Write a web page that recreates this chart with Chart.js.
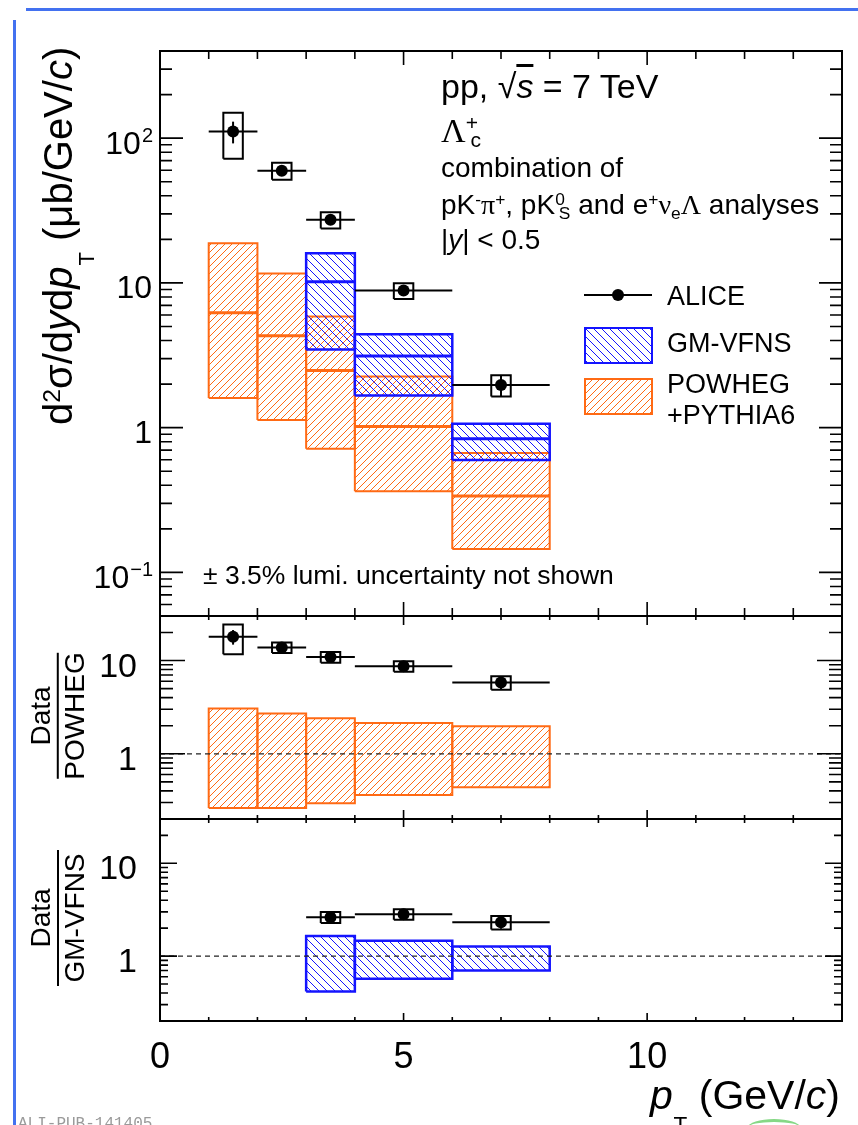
<!DOCTYPE html>
<html>
<head>
<meta charset="utf-8">
<script src="https://cdn.jsdelivr.net/npm/chart.js@4/dist/chart.umd.min.js"></script>
<style>
html,body{margin:0;padding:0;background:#fff;}
body{width:858px;height:1125px;position:relative;overflow:hidden;font-family:"Liberation Sans",Arial,Helvetica,sans-serif;color:#000;}
canvas{position:absolute;left:0;}
.t{position:absolute;white-space:nowrap;line-height:1;z-index:5;}
.t sup,.t sub{position:relative;vertical-align:baseline;line-height:0;font-size:0.62em;}
.t sup{top:-0.5em;}
.t sub{top:0.3em;}
.t sub.T{font-size:0.55em;top:1.0em;margin-left:0.04em;}
.g{font-family:"Liberation Serif","DejaVu Serif",serif;}
.rot{transform-origin:0 0;transform:rotate(-90deg);}
.frac{position:absolute;display:flex;flex-direction:column;align-items:center;font-size:28px;line-height:1;transform:rotate(-90deg);transform-origin:50% 50%;z-index:5;white-space:nowrap;}
.frac .bar{height:2px;background:#000;margin:2px 0;}
.scanT{position:absolute;left:26px;top:8px;width:832px;height:3px;background:#2f62ee;opacity:0.9;}
.scanL{position:absolute;left:13px;top:20px;width:3px;height:1105px;background:#2f62ee;opacity:0.9;}
.leg{position:absolute;z-index:5;}
</style>
</head>
<body>
<div class="scanT"></div>
<div class="scanL"></div>

<canvas id="c1" width="858" height="640" style="top:0px"></canvas>
<canvas id="c2" width="858" height="240" style="top:600px"></canvas>
<canvas id="c3" width="858" height="325" style="top:800px"></canvas>

<!-- annotations -->
<div class="t" style="left:441px;top:69px;font-size:34px;">pp, √<span style="font-style:italic;text-decoration:overline;">s</span> = 7 TeV</div>
<div class="t" style="left:441px;top:113px;font-size:34px;"><span class="g">Λ</span><sup style="font-size:0.62em;top:-0.55em;">+</sup><sub style="font-size:0.62em;top:0.25em;margin-left:-0.36em;">c</sub></div>
<div class="t" style="left:441px;top:154px;font-size:28px;">combination of</div>
<div class="t" style="left:441px;top:191px;font-size:28px;">pK<sup>-</sup><span class="g">π</span><sup>+</sup>, pK<sup>0</sup><sub style="margin-left:-0.345em;">S</sub> and e<sup>+</sup><span class="g">ν</span><sub>e</sub><span class="g">Λ</span> analyses</div>
<div class="t" style="left:441px;top:226px;font-size:28px;">|<i>y</i>| &lt; 0.5</div>
<div class="t" style="left:203px;top:562px;font-size:26.5px;">± 3.5% lumi. uncertainty not shown</div>

<!-- legend -->
<div class="leg" style="left:584px;top:294px;width:68px;height:2px;background:#000;"></div>
<div class="leg" style="left:612px;top:289px;width:12px;height:12px;border-radius:50%;background:#000;"></div>
<div class="leg" style="left:584px;top:327px;width:65px;height:33px;border:2px solid #1414ff;background:repeating-linear-gradient(45deg,#1414ff 0px,#1414ff 1px,transparent 1px,transparent 5.66px);"></div>
<div class="leg" style="left:584px;top:378px;width:65px;height:33px;border:2px solid #ff6a14;background:repeating-linear-gradient(-45deg,#ff6a14 0px,#ff6a14 1px,transparent 1px,transparent 4.95px);"></div>
<div class="t" style="left:667px;top:283px;font-size:27px;">ALICE</div>
<div class="t" style="left:667px;top:330px;font-size:27px;">GM-VFNS</div>
<div class="t" style="left:667px;top:371px;font-size:27px;">POWHEG</div>
<div class="t" style="left:667px;top:402px;font-size:27px;">+PYTHIA6</div>

<!-- axis titles -->
<div id="yt" class="t rot" style="font-size:40px;">d<sup>2</sup>σ/d<i>y</i>d<i>p</i><sub class="T">T</sub> (μb/GeV/<i>c</i>)</div>
<div id="fr1" class="frac"><div>Data</div><div class="bar" style="width:126px;"></div><div>POWHEG</div></div>
<div id="fr2" class="frac"><div>Data</div><div class="bar" style="width:136px;"></div><div>GM-VFNS</div></div>
<div class="t" style="right:18px;top:1075px;font-size:41px;"><i>p</i><sub class="T">T</sub> (GeV/<i>c</i>)</div>

<div class="t" style="left:18px;top:1116px;font-size:16px;font-family:'Liberation Mono','DejaVu Sans Mono',monospace;color:#9a9a9a;">ALI-PUB-141405</div>
<div style="position:absolute;left:748px;top:1119px;width:52px;height:14px;border-top:3px solid #86d886;border-radius:50% 50% 0 0;"></div>

<script>
// ---------------- data ----------------
const binLow = [1, 2, 3, 4, 6];
const binHigh = [2, 3, 4, 6, 8];
const ptCenter = [1.5, 2.5, 3.5, 5, 7];

const aliceXsec = [111, 59.5, 27.3, 8.85, 1.97];
const aliceStat = [19, 3.5, 1.5, 0.6, 0.33];
const aliceSyst = [39, 8, 3.5, 1.1, 0.33];

const powhegCentral = [6.21, 4.31, 2.48, 1.02, 0.337];
const powhegUpper = [18.8, 11.6, 5.87, 2.26, 0.668];
const powhegLower = [1.60, 1.13, 0.716, 0.363, 0.145];

const gmvfnsBins = [2, 3, 4];
const gmvfnsCentral = [10.2, 3.13, 0.84];
const gmvfnsUpper = [16.0, 4.42, 1.066];
const gmvfnsLower = [3.47, 1.67, 0.598];

const ratioPowheg = [18.0, 13.8, 10.9, 8.7, 5.82];
const ratioPowhegStat = [3.2, 0.8, 0.6, 0.6, 1.0];
const ratioPowhegSyst = [6.3, 1.8, 1.45, 1.1, 0.97];
const powhegBandUpper = [3.05, 2.70, 2.40, 2.14, 1.97];
const powhegBandLower = [0.263, 0.263, 0.295, 0.362, 0.437];

const ratioGmvfns = [2.63, 2.83, 2.32];
const ratioGmvfnsStat = [0.12, 0.15, 0.35];
const ratioGmvfnsSyst = [0.36, 0.37, 0.38];
const gmvfnsBandUpper = [1.65, 1.46, 1.27];
const gmvfnsBandLower = [0.417, 0.57, 0.70];

const xTickValues = [0, 5, 10];
const xTickLabels = ['0', '5', '10'];
const topYTickValues = [0.1, 1, 10, 100];
const topYTickLabels = [['10', '\u22121'], ['1', ''], ['10', ''], ['10', '2']];
const ratioYTickValues = [1, 10];
const ratioYTickLabels = [['1', ''], ['10', '']];

// ---------------- style ----------------
const FONT = '"Liberation Sans", Arial, Helvetica, sans-serif';
const ORANGE = '#ff6a14';
const BLUE = '#1414ff';
const SYS_HALF = 0.2;

function hatch(color, size, dir) {
  const c = document.createElement('canvas');
  c.width = size; c.height = size;
  const g = c.getContext('2d');
  g.strokeStyle = color; g.lineWidth = 1;
  g.beginPath();
  if (dir > 0) {
    g.moveTo(-1, size + 1); g.lineTo(size + 1, -1);
    g.moveTo(-1, 1); g.lineTo(1, -1);
    g.moveTo(size - 1, size + 1); g.lineTo(size + 1, size - 1);
  } else {
    g.moveTo(-1, -1); g.lineTo(size + 1, size + 1);
    g.moveTo(size - 1, -1); g.lineTo(size + 1, 1);
    g.moveTo(-1, size - 1); g.lineTo(1, size + 1);
  }
  g.stroke();
  return g.createPattern(c, 'repeat');
}
const orangeHatch = hatch(ORANGE, 7, 1);
const blueHatch = hatch(BLUE, 8, -1);

function fillBox(x0, x1, lo, hi, pat, order) {
  return {data: [{x: x0, y: lo}, {x: x0, y: hi}, {x: x1, y: hi}, {x: x1, y: lo}],
    fill: 'shape', backgroundColor: pat, borderWidth: 0, borderColor: 'rgba(0,0,0,0)',
    pointRadius: 0, order, clip: false};
}
function outline(x0, x1, lo, hi, color, w, order) {
  return {data: [{x: x0, y: lo}, {x: x0, y: hi}, {x: x1, y: hi}, {x: x1, y: lo}, {x: x0, y: lo}],
    fill: false, borderColor: color, borderWidth: w, pointRadius: 0, order, borderJoinStyle: 'miter'};
}
function seg(x0, y0, x1, y1, color, w, order, dash) {
  return {data: [{x: x0, y: y0}, {x: x1, y: y1}], fill: false, borderColor: color,
    borderWidth: w, pointRadius: 0, order, borderDash: dash || [], borderCapStyle: 'butt'};
}
function markers(xs, ys, order) {
  return {data: xs.map((x, i) => ({x, y: ys[i]})), showLine: false, pointRadius: 6,
    pointBackgroundColor: '#000', pointBorderWidth: 0, order};
}
function dataPoints(list, xs, vals, stat, syst, lows, highs) {
  xs.forEach((x, i) => {
    list.push(seg(lows[i], vals[i], highs[i], vals[i], '#000', 2, 20));
    list.push(seg(x, vals[i] - stat[i], x, vals[i] + stat[i], '#000', 2, 20));
    list.push(outline(x - SYS_HALF, x + SYS_HALF, vals[i] - syst[i], vals[i] + syst[i], '#000', 2, 10));
  });
  list.push(markers(xs, vals, 0));
}

function framePlugin(o) {
  return {
    id: 'rootFrame',
    afterDraw(chart) {
      const {ctx, chartArea: a} = chart;
      const xs = chart.scales.x, ys = chart.scales.y;
      ctx.save();
      ctx.strokeStyle = '#000';
      ctx.lineWidth = 1.6;
      ctx.beginPath();
      for (let v = xs.min + 1; v < xs.max; v++) {
        const px = xs.getPixelForValue(v);
        const L = (v % 5 === 0) ? o.xMajor : o.xMinor;
        ctx.moveTo(px, a.bottom); ctx.lineTo(px, a.bottom - L);
        ctx.moveTo(px, a.top); ctx.lineTo(px, a.top + L);
      }
      const lo = Math.floor(Math.log10(ys.min)), hi = Math.ceil(Math.log10(ys.max));
      for (let e = lo; e <= hi; e++) {
        for (let m = 1; m <= 9; m++) {
          const v = m * Math.pow(10, e);
          if (v <= ys.min * 1.0001 || v >= ys.max * 0.9999) continue;
          const py = ys.getPixelForValue(v);
          const L = m === 1 ? o.yMajor : o.yMinor;
          ctx.moveTo(a.left, py); ctx.lineTo(a.left + L, py);
          ctx.moveTo(a.right, py); ctx.lineTo(a.right - L, py);
        }
      }
      ctx.stroke();
      ctx.lineWidth = 2;
      ctx.strokeRect(a.left, a.top, a.right - a.left, a.bottom - a.top);
      ctx.fillStyle = '#000';
      ctx.textBaseline = 'alphabetic';
      ctx.textAlign = 'left';
      o.yTicks.forEach((v, i) => {
        const base = o.yLabels[i][0], exp = o.yLabels[i][1];
        const py = ys.getPixelForValue(v);
        ctx.font = o.yFont + 'px ' + FONT;
        const wb = ctx.measureText(base).width;
        ctx.font = o.yExpFont + 'px ' + FONT;
        const we = exp ? ctx.measureText(exp).width : 0;
        const xb = o.yLabelRight - we - wb;
        const by = py + 0.358 * o.yFont + o.yLabelDy;
        ctx.font = o.yFont + 'px ' + FONT;
        ctx.fillText(base, xb, by);
        if (exp) {
          ctx.font = o.yExpFont + 'px ' + FONT;
          ctx.fillText(exp, xb + wb + 1, by - o.yExpRaise);
        }
      });
      if (o.xTicks) {
        ctx.font = o.xFont + 'px ' + FONT;
        ctx.textAlign = 'center';
        o.xTicks.forEach((v, i) => ctx.fillText(o.xLabels[i], xs.getPixelForValue(v), o.xLabelBaseline));
      }
      ctx.restore();
    }
  };
}

function makeChart(id, yMin, yMax, padding, datasets, frame) {
  return new Chart(document.getElementById(id), {
    type: 'line',
    data: {datasets},
    options: {
      responsive: false, animation: false, events: [],
      layout: {padding},
      elements: {line: {tension: 0}},
      scales: {
        x: {type: 'linear', min: 0, max: 14, display: false},
        y: {type: 'logarithmic', min: yMin, max: yMax, display: false}
      },
      plugins: {legend: {display: false}, tooltip: {enabled: false}}
    },
    plugins: [framePlugin(frame)]
  });
}

// ---------------- top panel ----------------
const ds1 = [];
binLow.forEach((x0, i) => {
  const x1 = binHigh[i];
  ds1.push(fillBox(x0, x1, powhegLower[i], powhegUpper[i], orangeHatch, 60));
  ds1.push(outline(x0, x1, powhegLower[i], powhegUpper[i], ORANGE, 2, 50));
  ds1.push(seg(x0, powhegCentral[i], x1, powhegCentral[i], ORANGE, 3, 50));
});
gmvfnsBins.forEach((b, i) => {
  const x0 = binLow[b], x1 = binHigh[b];
  ds1.push(fillBox(x0, x1, gmvfnsLower[i], gmvfnsUpper[i], blueHatch, 40));
  ds1.push(outline(x0, x1, gmvfnsLower[i], gmvfnsUpper[i], BLUE, 2.5, 30));
  ds1.push(seg(x0, gmvfnsCentral[i], x1, gmvfnsCentral[i], BLUE, 3, 30));
});
dataPoints(ds1, ptCenter, aliceXsec, aliceStat, aliceSyst, binLow, binHigh);
makeChart('c1', 0.05, 400, {left: 160, right: 16, top: 51, bottom: 24}, ds1, {
  xMajor: 14, xMinor: 8, yMajor: 23, yMinor: 12,
  yTicks: topYTickValues, yLabels: topYTickLabels, yFont: 32, yExpFont: 20, yExpRaise: 12,
  yLabelRight: 152, yLabelDy: 4
});

// ---------------- Data / POWHEG ----------------
const ds2 = [];
ds2.push(seg(0, 1, 14, 1, '#222', 1.2, 5, [5, 4]));
binLow.forEach((x0, i) => {
  const x1 = binHigh[i];
  ds2.push(fillBox(x0, x1, powhegBandLower[i], powhegBandUpper[i], orangeHatch, 60));
  ds2.push(outline(x0, x1, powhegBandLower[i], powhegBandUpper[i], ORANGE, 2, 50));
});
dataPoints(ds2, ptCenter, ratioPowheg, ratioPowhegStat, ratioPowhegSyst, binLow, binHigh);
makeChart('c2', 0.2, 30, {left: 160, right: 16, top: 16, bottom: 21}, ds2, {
  xMajor: 9, xMinor: 4, yMajor: 25, yMinor: 13,
  yTicks: ratioYTickValues, yLabels: ratioYTickLabels, yFont: 34, yExpFont: 20, yExpRaise: 12,
  yLabelRight: 137, yLabelDy: 4
});

// ---------------- Data / GM-VFNS ----------------
const ds3 = [];
ds3.push(seg(0, 1, 14, 1, '#222', 1.2, 5, [5, 4]));
const gmX = gmvfnsBins.map(b => ptCenter[b]);
const gmLo = gmvfnsBins.map(b => binLow[b]);
const gmHi = gmvfnsBins.map(b => binHigh[b]);
gmvfnsBins.forEach((b, i) => {
  ds3.push(fillBox(gmLo[i], gmHi[i], gmvfnsBandLower[i], gmvfnsBandUpper[i], blueHatch, 60));
  ds3.push(outline(gmLo[i], gmHi[i], gmvfnsBandLower[i], gmvfnsBandUpper[i], BLUE, 2.5, 50));
});
dataPoints(ds3, gmX, ratioGmvfns, ratioGmvfnsStat, ratioGmvfnsSyst, gmLo, gmHi);
makeChart('c3', 0.2, 30, {left: 160, right: 16, top: 19, bottom: 104}, ds3, {
  xMajor: 8, xMinor: 4, yMajor: 17, yMinor: 8,
  yTicks: ratioYTickValues, yLabels: ratioYTickLabels, yFont: 34, yExpFont: 20, yExpRaise: 12,
  yLabelRight: 137, yLabelDy: 4,
  xTicks: xTickValues, xLabels: xTickLabels, xFont: 36, xLabelBaseline: 1068 - 800
});

// ---------------- titles placement ----------------
(function () {
  const yt = document.getElementById('yt');
  const fs = 40;
  yt.style.left = (72 - 0.8465 * fs) + 'px';
  yt.style.top = (47 + yt.offsetWidth) + 'px';
  function frac(id, cx, cy) {
    const el = document.getElementById(id);
    el.style.left = (cx - el.offsetWidth / 2) + 'px';
    el.style.top = (cy - el.offsetHeight / 2) + 'px';
  }
  frac('fr1', 58, 716);
  frac('fr2', 58, 918);
})();
</script>
</body>
</html>
